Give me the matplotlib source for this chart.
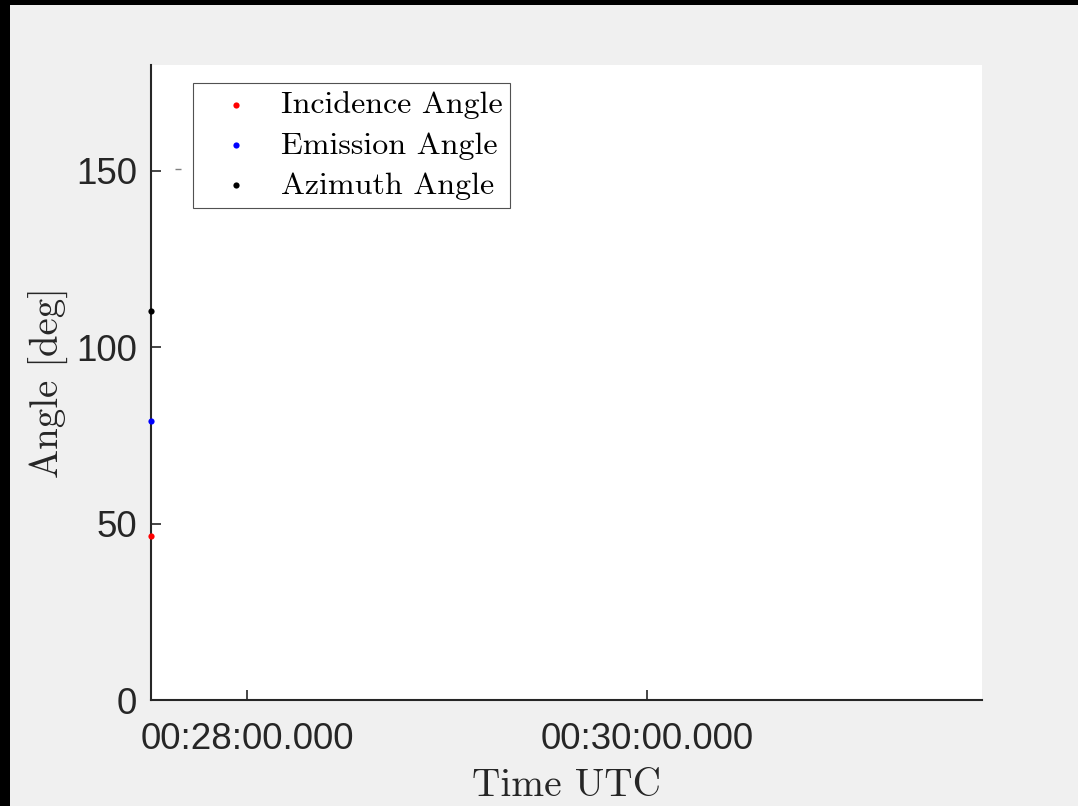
import matplotlib
matplotlib.use("Agg")
import matplotlib.pyplot as plt
import matplotlib.dates as mdates
import numpy as np
from matplotlib.patches import Rectangle

# ---- data ----
times = np.array(["2000-01-01T00:27:31.2"], dtype="datetime64[ms]")
incidence = [46.4]
emission = [79.2]
azimuth = [110.4]
stray_time = np.array(["2000-01-01T00:27:39.3"], dtype="datetime64[ms]")
stray_value = [150.5]
xlim_times = np.array(["2000-01-01T00:27:31.2", "2000-01-01T00:31:40.5"], dtype="datetime64[ms]")
xtick_times = np.array(["2000-01-01T00:28:00", "2000-01-01T00:30:00"], dtype="datetime64[ms]")
yticks = [0, 50, 100, 150]
ylim = (0, 180)
series_labels = ["Incidence Angle", "Emission Angle", "Azimuth Angle"]
series_colors = ["#ff0000", "#0000ff", "#000000"]

fig = plt.figure(figsize=(10.78, 8.06), dpi=100, facecolor="#f0f0f0")
# black borders (top and left)
fig.patches.append(Rectangle((0, 1 - 5/806), 1, 5/806, transform=fig.transFigure,
                             facecolor="black", edgecolor="none", zorder=10))
fig.patches.append(Rectangle((0, 0), 10/1078, 1, transform=fig.transFigure,
                             facecolor="black", edgecolor="none", zorder=10))

ax = fig.add_axes([151/1078, 1 - 700/806, (982 - 151)/1078, (700 - 65)/806])
ax.set_facecolor("white")

for vals, lab, col in zip([incidence, emission, azimuth], series_labels, series_colors):
    ax.scatter(times, vals, s=20, color=col, label=lab, clip_on=False, zorder=5, linewidths=0)

ax.plot(stray_time, stray_value, marker="_", color="#808080", markersize=4,
        linestyle="none", markeredgewidth=1)

ax.set_xlim(xlim_times[0], xlim_times[1])
ax.set_ylim(*ylim)
ax.set_xticks(xtick_times)
ax.xaxis.set_major_formatter(mdates.DateFormatter("%H:%M:%S.000"))
ax.set_yticks(yticks)

for s in ["top", "right"]:
    ax.spines[s].set_visible(False)
for s in ["left", "bottom"]:
    ax.spines[s].set_color("#262626")
    ax.spines[s].set_linewidth(1.5)

ax.tick_params(direction="in", length=7, width=1.2, colors="#262626",
               labelsize=26.5, labelcolor="#262626")
ax.tick_params(axis="x", pad=16)
ax.tick_params(axis="y", pad=10)
for t in ax.get_xticklabels() + ax.get_yticklabels():
    t.set_fontfamily("Liberation Sans")

ax.set_xlabel("Time UTC", fontfamily="cmr10", fontsize=28.3, color="#262626", labelpad=8)
ax.set_ylabel("Angle [deg]", fontfamily="cmr10", fontsize=28, color="#262626", labelpad=5)

leg = ax.legend(loc="upper left", bbox_to_anchor=((193 - 151)/831, 1 - (83 - 65)/635),
                prop={"family": "cmr10", "size": 23}, frameon=True, fancybox=False,
                borderaxespad=0, handletextpad=0.3, labelspacing=0.37, markerscale=1.0,
                scatterpoints=1, borderpad=0.25, handlelength=2.2)
leg.get_frame().set_edgecolor("#262626")
leg.get_frame().set_linewidth(0.8)

fig.savefig("out.png", dpi=100, facecolor=fig.get_facecolor())
